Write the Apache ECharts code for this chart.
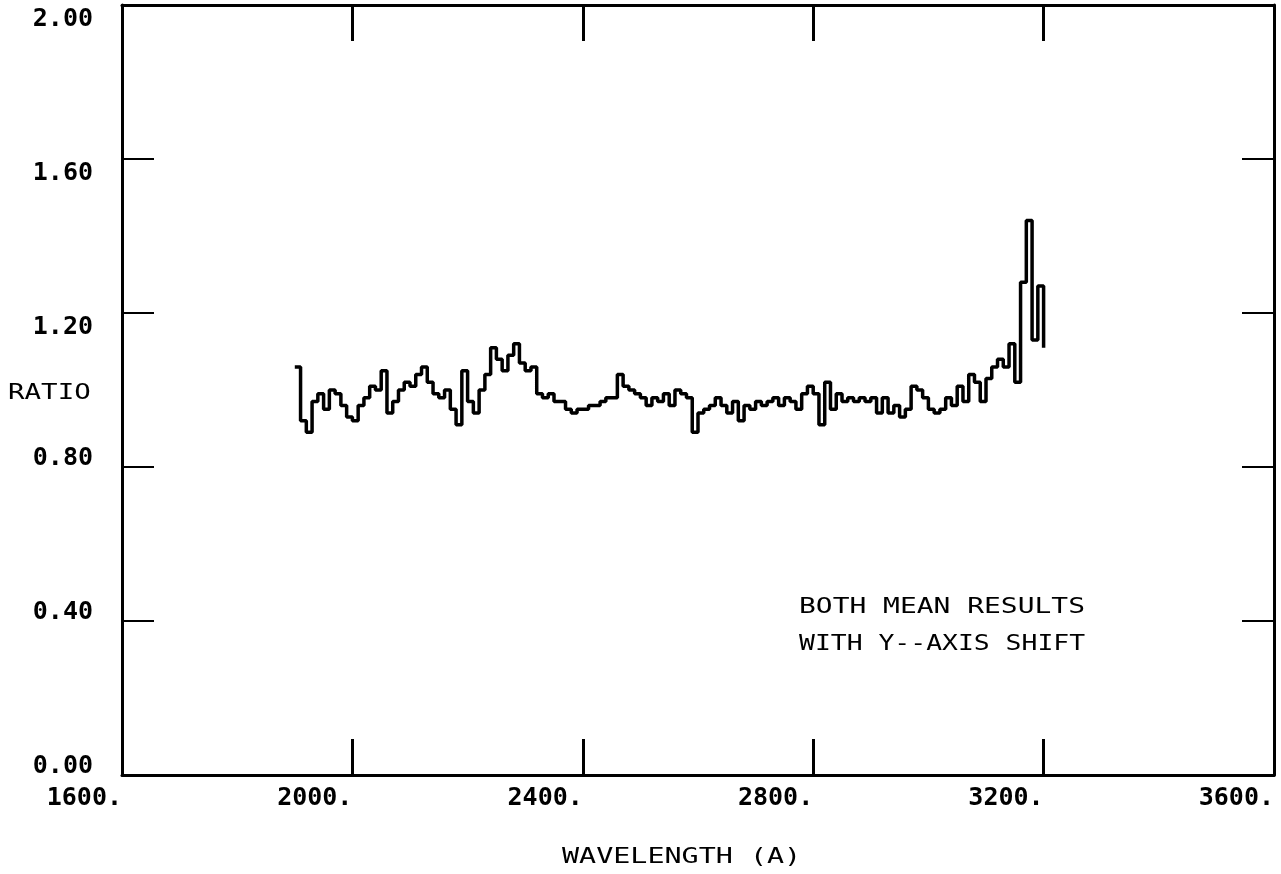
<!DOCTYPE html>
<html>
<head>
<meta charset="utf-8">
<script src="https://cdn.jsdelivr.net/npm/echarts@6/dist/echarts.min.js"></script>
<style>
  html, body { margin: 0; padding: 0; background: #fff; }
  #chart { width: 1281px; height: 874px; }
</style>
</head>
<body>
<div id="chart"></div>
<script>
// wavelength grid (A), 10 A steps from 1900 to 3200
var waveStart = 1900;
var waveStep = 10;
var ratio = [
  1.06, 0.92, 0.89, 0.97, 0.99, 0.95, 1.00, 0.99, 0.96, 0.93,
  0.92, 0.96, 0.98, 1.01, 1.00, 1.05, 0.94, 0.97, 1.00, 1.02,
  1.01, 1.04, 1.06, 1.02, 0.99, 0.98, 1.00, 0.95, 0.91, 1.05,
  0.97, 0.94, 1.00, 1.04, 1.11, 1.08, 1.05, 1.09, 1.12, 1.07,
  1.05, 1.06, 0.99, 0.98, 0.99, 0.97, 0.97, 0.95, 0.94, 0.95,
  0.95, 0.96, 0.96, 0.97, 0.98, 0.98, 1.04, 1.01, 1.00, 0.99,
  0.98, 0.96, 0.98, 0.97, 0.99, 0.96, 1.00, 0.99, 0.98, 0.89,
  0.94, 0.95, 0.96, 0.98, 0.96, 0.94, 0.97, 0.92, 0.96, 0.95,
  0.97, 0.96, 0.97, 0.98, 0.96, 0.98, 0.97, 0.95, 0.99, 1.01,
  0.99, 0.91, 1.02, 0.95, 0.99, 0.97, 0.98, 0.97, 0.98, 0.97,
  0.98, 0.94, 0.98, 0.94, 0.96, 0.93, 0.95, 1.01, 1.00, 0.98,
  0.95, 0.94, 0.95, 0.98, 0.96, 1.01, 0.97, 1.04, 1.02, 0.97,
  1.03, 1.06, 1.08, 1.06, 1.12, 1.02, 1.28, 1.44, 1.13, 1.27,
  1.11
];
var xTicks = [1600, 2000, 2400, 2800, 3200, 3600];
var yTicks = [0.0, 0.4, 0.8, 1.2, 1.6, 2.0];
var noteLines = ["BOTH MEAN RESULTS", "WITH Y--AXIS SHIFT"];

var points = ratio.map(function (v, i) {
  return [waveStart + i * waveStep, v];
});

var chart = echarts.init(document.getElementById("chart"));
var font = "'DejaVu Sans Mono', monospace";
var labelText = { color: "#000", fontFamily: font, fontWeight: "bold", fontSize: 25 };

function frameX(pos, showLabel) {
  return {
    type: "value",
    position: pos,
    min: xTicks[0],
    max: xTicks[xTicks.length - 1],
    interval: 400,
    axisLine: { show: true, onZero: false, lineStyle: { color: "#000", width: 3 } },
    axisTick: { show: true, inside: true, length: 36, lineStyle: { color: "#000", width: 3 } },
    axisLabel: Object.assign({
      show: showLabel,
      align: "right",
      margin: 11,
      formatter: function (v) { return v + "."; },
    }, labelText),
    splitLine: { show: false },
  };
}

function frameY(pos, showLabel) {
  return {
    type: "value",
    position: pos,
    min: yTicks[0],
    max: yTicks[yTicks.length - 1],
    interval: 0.4,
    axisLine: { show: true, onZero: false, lineStyle: { color: "#000", width: 3 } },
    axisTick: { show: true, inside: true, length: 32, lineStyle: { color: "#000", width: 2 } },
    axisLabel: Object.assign({
      show: showLabel,
      margin: 29,
      // upper labels sit a little below their ticks, lower ones a little above
      formatter: function (v) {
        return (v >= 1 ? "{up|" : "{dn|") + v.toFixed(2) + "}";
      },
      rich: {
        up: Object.assign({ padding: [28, 0, 0, 0] }, labelText),
        dn: Object.assign({ padding: [0, 0, 18, 0] }, labelText),
      },
    }, labelText),
    splitLine: { show: false },
  };
}

var option = {
  animation: false,
  backgroundColor: "#fff",
  grid: { left: 122, right: 7, top: 5, bottom: 99, containLabel: false, outerBoundsMode: "none" },
  xAxis: [frameX("bottom", true), frameX("top", false)],
  yAxis: [frameY("left", true), frameY("right", false)],
  series: [
    {
      type: "line",
      xAxisIndex: 0,
      yAxisIndex: 0,
      step: "end",
      showSymbol: false,
      data: points,
      lineStyle: { color: "#000", width: 3.5 },
    },
  ],
  graphic: [
    {
      type: "text",
      left: 8,
      top: 382,
      style: { text: "RATIO", fill: "#000", font: "22px " + font },
      scaleX: 1.25,
    },
    {
      type: "text",
      left: 562,
      top: 846,
      style: { text: "WAVELENGTH (A)", fill: "#000", font: "22px " + font },
      scaleX: 1.29,
    },
    {
      type: "text",
      left: 799,
      top: 596,
      style: { text: noteLines[0], fill: "#000", font: "22px " + font },
      scaleX: 1.27,
    },
    {
      type: "text",
      left: 799,
      top: 633,
      style: { text: noteLines[1], fill: "#000", font: "22px " + font },
      scaleX: 1.2,
    },
  ],
};

option && chart.setOption(option);
</script>
</body>
</html>
